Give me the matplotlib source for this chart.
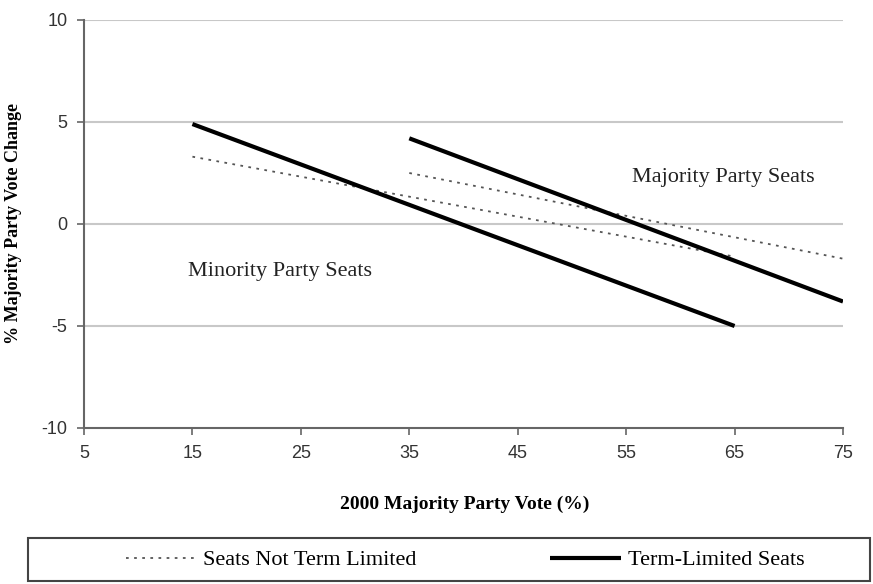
import matplotlib.pyplot as plt
from matplotlib.patches import Rectangle

plt.rcParams['axes.unicode_minus'] = False

# lines (endpoints of each fitted line)
minority_x = [15, 65]
minority_term = [4.9, -5.0]
minority_not_term = [3.3, -1.6]

majority_x = [35, 75]
majority_term = [4.2, -3.8]
majority_not_term = [2.5, -1.7]

xticks = [5, 15, 25, 35, 45, 55, 65, 75]
yticks = [-10, -5, 0, 5, 10]

fig = plt.figure(figsize=(8.73, 5.84), dpi=100)
ax = fig.add_axes([84 / 873, 1 - 428 / 584, (843 - 84) / 873, (428 - 20) / 584])

dot_style = dict(color='#555555', lw=1.3, linestyle=(0, (1.5, 3)))
solid_style = dict(color='black', lw=3, solid_capstyle='butt')

ax.plot(minority_x, minority_not_term, label='Seats Not Term Limited', **dot_style)
ax.plot(majority_x, majority_not_term, **dot_style)
ax.plot(minority_x, minority_term, label='Term-Limited Seats', **solid_style)
ax.plot(majority_x, majority_term, **solid_style)

ax.text(23.1, -2.35, 'Minority Party Seats', family='Liberation Serif', fontsize=16,
        ha='center', va='center', color='#222222')
ax.text(64, 2.3, 'Majority Party Seats', family='Liberation Serif', fontsize=16,
        ha='center', va='center', color='#222222')

ax.set_xlim(5, 75)
ax.set_ylim(-10, 10)
ax.set_xticks(xticks)
ax.set_yticks(yticks)
for y in [-5, 0, 5, 10]:
    ax.axhline(y, color='#c8c8c8', lw=1.5, zorder=0)

for s in ['top', 'right']:
    ax.spines[s].set_visible(False)
for s in ['left', 'bottom']:
    ax.spines[s].set_color('#666666')
    ax.spines[s].set_linewidth(1.5)
ax.tick_params(direction='out', length=5, width=1.2, color='#666666', labelsize=13,
               labelcolor='#333333', pad=7)
for lab in ax.get_xticklabels() + ax.get_yticklabels():
    lab.set_family('Liberation Sans')

ax.set_xlabel('2000 Majority Party Vote (%)', family='Liberation Serif', fontweight='bold',
              fontsize=14)
ax.set_ylabel('% Majority Party Vote Change', family='Liberation Serif', fontweight='bold',
              fontsize=13)
ax.xaxis.set_label_coords(0.502, -0.165)
ax.yaxis.set_label_coords(-0.082, 0.5)

# legend box
fig.patches.append(Rectangle((28 / 873, 3 / 584), 842 / 873, 43 / 584, transform=fig.transFigure,
                             fill=False, edgecolor='#444444', lw=1.5))
leg = fig.legend(loc='center', bbox_to_anchor=(465 / 873, 24 / 584), ncol=2, frameon=False,
                 handlelength=3.2, handletextpad=0.3, columnspacing=6.0,
                 prop={'family': 'Liberation Serif', 'size': 16})

fig.savefig('out.png', dpi=100)
